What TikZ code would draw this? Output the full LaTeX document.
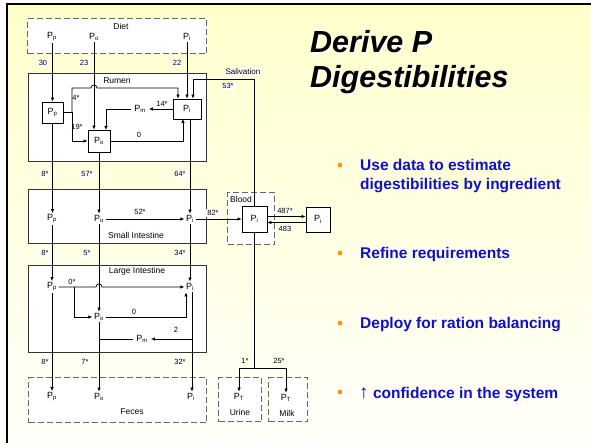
\documentclass[tikz,border=0pt]{standalone}
\usepackage{fontspec}
\setmainfont{Liberation Sans}
\usetikzlibrary{arrows.meta}
\newcommand\Psb[1]{P\textsubscript{#1}}
\definecolor{bgtop}{RGB}{255,255,204}
\definecolor{bgbot}{RGB}{255,255,250}
\definecolor{bulblue}{RGB}{16,16,200}
\definecolor{bulorange}{RGB}{255,150,20}
\tikzset{
  cbox/.style={draw=black!80, fill=white, line width=0.8pt, anchor=north west, inner sep=0pt},
  dbox/.style={draw=black!60, fill=white, line width=1.2pt, dash pattern=on 6pt off 3pt, anchor=north west, inner sep=0pt},
  pbox/.style={draw=black, fill=white, line width=0.8pt, inner sep=0pt},
  ptx/.style={font=\fontsize{9}{10}\selectfont, inner sep=1.5pt},
  ttx/.style={font=\fontsize{8.5}{10}\selectfont, inner sep=1pt},
  lbl/.style={font=\fontsize{7.5}{8}\selectfont, fill=white, inner sep=1pt},
  ilb/.style={font=\fontsize{7.5}{8}\selectfont, inner sep=0.5pt},
  arr/.style={-{Latex[length=4pt,width=3.5pt]}, line width=0.7pt},
  ln/.style={line width=0.7pt},
  bul/.style={font=\fontsize{15.5}{19}\selectfont\bfseries, text=bulblue, anchor=base west, inner sep=0pt},
  ttl/.style={font=\fontsize{30.5}{34}\selectfont\bfseries\itshape, anchor=base west, inner sep=0pt}
}
\begin{document}
\begin{tikzpicture}[x=1pt,y=-1pt]
\useasboundingbox (0,0) rectangle (591,443);
\fill[white] (0,0) rectangle (591,443);
\shade[top color=bgtop,bottom color=bgbot] (7,4) rectangle (591,443);
\draw[line width=2pt] (7,443) -- (7,4) -- (591,4);

% containers
\node[dbox, minimum width=179, minimum height=35] (diet) at (27,18) {};
\node[cbox, minimum width=178, minimum height=88] (rumen) at (28,73) {};
\node[cbox, minimum width=178, minimum height=54] (si) at (28,189) {};
\node[cbox, minimum width=178, minimum height=87] (li) at (28,265) {};
\node[dbox, minimum width=178, minimum height=45] (feces) at (28,377) {};
\node[dbox, minimum width=43, minimum height=44] (urine) at (218,377) {};
\node[dbox, minimum width=39, minimum height=44] (milk) at (268,377) {};
\node[dbox, minimum width=47, minimum height=52] (blood) at (227,192) {};

% diet
\node[ttx] (diettxt) at (121,26) {Diet};
\node[ptx] (dPp) at (52,37) {\Psb{p}};
\node[ptx] (dPo) at (94,37) {\Psb{o}};
\node[ptx] (dPi) at (187,37) {\Psb{i}};

% rumen
\node[ttx] (rumtxt) at (117,81) {Rumen};
\node[pbox, minimum width=21, minimum height=21, font=\fontsize{9}{10}\selectfont] (rPp) at (52.5,112.5) {\Psb{p}};
\node[pbox, minimum width=28, minimum height=20, font=\fontsize{9}{10}\selectfont] (rPi) at (187,109) {\Psb{i}};
\node[pbox, minimum width=22, minimum height=22, font=\fontsize{9}{10}\selectfont] (rPo) at (99,141) {\Psb{o}};
\node[ptx, inner sep=3pt] (rPm) at (140,109) {\Psb{m}};

% small intestine
\node[ptx] (sPp) at (52,219) {\Psb{p}};
\node[ptx] (sPo) at (99,219) {\Psb{o}};
\node[ptx] (sPi) at (190,219) {\Psb{i}};
\node[ttx] (sitxt) at (136,235) {Small Intestine};

% blood
\node[ttx, anchor=west] (bloodtxt) at (229,199) {Blood};
\node[pbox, minimum width=25, minimum height=26, font=\fontsize{9}{10}\selectfont] (bPi) at (254.5,219) {\Psb{i}};
\node[pbox, minimum width=24, minimum height=25, font=\fontsize{9}{10}\selectfont] (xPi) at (318,219.5) {\Psb{i}};

% large intestine
\node[ttx] (litxt) at (137,271) {Large Intestine};
\node[ptx] (lPp) at (52,287) {\Psb{p}};
\node[ptx] (lPi) at (190,287) {\Psb{i}};
\node[ptx] (lPo) at (99,317) {\Psb{o}};
\node[ptx, inner sep=3pt] (lPm) at (142,339) {\Psb{m}};

% feces, urine, milk
\node[ptx] (fPp) at (52,397) {\Psb{p}};
\node[ptx] (fPo) at (99,397) {\Psb{o}};
\node[ptx] (fPi) at (191,397) {\Psb{i}};
\node[ttx] (fectxt) at (132,412) {Feces};
\node[ptx] (uPT) at (239,397) {\Psb{T}};
\node[ttx] (urtxt) at (240,412) {Urine};
\node[ptx] (mPT) at (286,398) {\Psb{T}};
\node[ttx] (mitxt) at (287,413) {Milk};

% diet -> rumen
\draw[arr] (rPp.north |- dPp.south) -- (rPp.north);
\draw[arr] (dPo.south) -- (dPo.south |- rPo.north);
\draw[arr] (dPi.south) -- (dPi.south |- rPi.north);
\node[lbl] (l30) at (43,63) {30};
\node[lbl] (l23) at (84,63) {23};
\node[lbl] (l22) at (177,63) {22};

% salivation
\coordinate (salc) at (193,79);
\draw[arr] (bPi.north) |- (salc) -- (salc |- rPi.north);
\node[lbl, font=\fontsize{8}{9}\selectfont] (saliv) at (243,72) {Salivation};
\node[lbl] (l53) at (228,86) {53*};

% rumen internal
\coordinate (rj) at (72,112.5);
\coordinate (r4) at (178,88);
\draw[arr] (rPp.east) -- (rj) -- (72,88) -- (91,88) .. controls (91,84) and (97,84) .. (97,88) -- (r4) -- (r4 |- rPi.north);
\draw[arr] (rj) |- (rPo.west);
\draw[arr] (rPi.west) -- (rPm.east);
\coordinate (po2) at (106,130);
\draw[arr] (rPm.west) -| (po2);
\coordinate (pi2) at (183,119);
\draw[arr] (rPo.east) -| (pi2);
\node[ilb] (l4) at (76,98) {4*};
\node[ilb] (l19) at (77,127) {19*};
\node[ilb] (l14) at (162,104) {14*};
\node[ilb] (l0a) at (139,135) {0};

% rumen -> SI
\draw[arr] (rPp.south) -- (rPp.south |- sPp.north);
\draw[arr] (rPo.south) -- (rPo.south |- sPo.north);
\draw[arr] (sPi.north |- rPi.south) -- (sPi.north);
\node[lbl] (l8a) at (45,174) {8*};
\node[lbl] (l57) at (87,174) {57*};
\node[lbl] (l64) at (180,174) {64*};

% SI internal and to blood
\draw[arr] (sPo.east) -- (sPi.west);
\node[ilb] (l52) at (140,212) {52*};
\draw[arr] (sPi.east) -- (bPi.west);
\node[lbl] (l82) at (213,213) {82*};
\coordinate (h1) at (0,216.5);
\coordinate (h2) at (0,222.5);
\draw[arr] (bPi.east |- h1) -- (xPi.west |- h1);
\draw[arr] (xPi.west |- h2) -- (bPi.east |- h2);
\node[lbl] (l487) at (285,210.5) {487*};
\node[lbl] (l483) at (285,228.5) {483};

% SI -> LI
\draw[arr] (sPp.south) -- (sPp.south |- lPp.north);
\draw[arr] (sPo.south) -- (lPo.north);
\draw[arr] (sPi.south) -- (lPi.north);
\node[lbl] (l8b) at (45,253) {8*};
\node[lbl] (l5) at (87,253) {5*};
\node[lbl] (l34) at (180,253) {34*};

% LI internal
\draw[arr] (lPp.east) -- (96,287) .. controls (96,283) and (102,283) .. (102,287) -- (lPi.west);
\draw[arr] (74,287) |- (lPo.west);
\draw[arr] (lPo.east) -| ([xshift=-4pt]lPi.south);
\coordinate (pc) at (192,339);
\draw[arr] (lPi.south -| pc) -- (pc |- fPi.north);
\draw[arr] (pc) -- (lPm.east);
\draw[ln] (lPm.west) -- (lPo.south |- lPm.west);
\node[ilb] (l0s) at (72,281.5) {0*};
\node[ilb] (l0b) at (134,312) {0};
\node[ilb] (l2) at (176,330) {2};

% LI -> feces
\draw[arr] (lPp.south) -- (lPp.south |- fPp.north);
\draw[arr, line width=1pt] (lPo.south) -- (lPo.south |- fPo.north);
\node[lbl] (l8c) at (45,362) {8*};
\node[lbl] (l7) at (85,362) {7*};
\node[lbl] (l32) at (180,362) {32*};

% blood -> urine / milk
\coordinate (bj) at (255,368);
\draw[ln] (bPi.south) -- (bPi.south |- bj);
\draw[arr] (bPi.south |- bj) -| (uPT.north);
\draw[arr] (bPi.south |- bj) -| (mPT.north);
\node[ilb] (l1) at (245,361) {1*};
\node[ilb] (l25) at (279,361) {25*};

% title
\node[ttl, text=white] (t1s) at (311.2,54.2) {Derive P};
\node[ttl] (t1) at (310,53) {Derive P};
\node[ttl, text=white] (t2s) at (311.2,89.2) {Digestibilities};
\node[ttl] (t2) at (310,88) {Digestibilities};

% bullets
\fill[bulorange] (340,165) circle (2.4pt);
\fill[bulorange] (340,253) circle (2.4pt);
\fill[bulorange] (340,323) circle (2.4pt);
\fill[bulorange] (340,392) circle (2.4pt);
\node[bul] (b1a) at (360,170.5) {Use data to estimate};
\node[bul] (b1b) at (360,190) {digestibilities by ingredient};
\node[bul] (b2) at (360,259) {Refine requirements};
\node[bul] (b3) at (360,328.5) {Deploy for ration balancing};
\node[bul] (b4) at (359,398) {{\fontsize{19}{19}\selectfont ↑} confidence in the system};
\end{tikzpicture}
\end{document}
